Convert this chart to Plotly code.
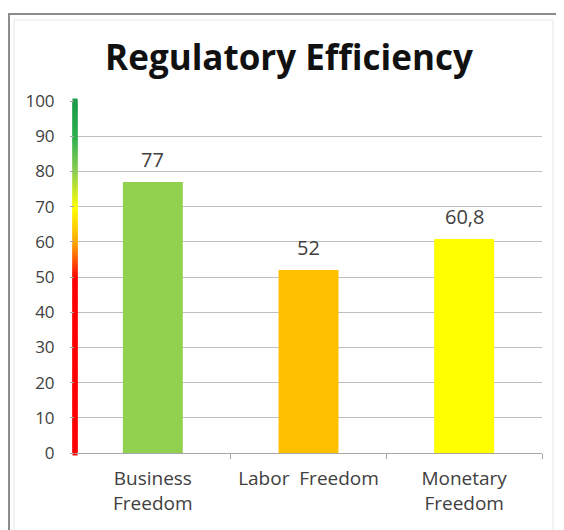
import plotly.graph_objects as go

categories = ["Business<br>Freedom", "Labor  Freedom", "Monetary<br>Freedom"]
values = [77, 52, 60.8]
bar_colors = ["#92D050", "#FFC000", "#FFFF00"]
y_ticks = [0, 10, 20, 30, 40, 50, 60, 70, 80, 90, 100]
scale_levels = [i * 0.5 for i in range(0, 201)]

OFF = 8  # page body offset
W, H = 564, 530
L, R, T, B = 75 - OFF, 22 + OFF, 101 - OFF, 77 + OFF
pw, ph = W - L - R, H - T - B

def px_x(x):
    return (x - OFF - L) / pw

def px_y(y):
    return (H - B - (y - OFF)) / ph

xs = list(range(len(categories)))
labels = [str(v).replace(".", ",") for v in values]

fig = go.Figure()

fig.add_trace(go.Bar(
    x=xs, y=values, width=0.385,
    marker=dict(color=bar_colors, line=dict(width=0)),
    hoverinfo="skip",
))

# gradient colored axis
fig.add_trace(go.Scatter(
    x=[-0.5] * len(scale_levels), y=scale_levels, mode="markers",
    marker=dict(symbol="square", size=5, color=scale_levels,
                colorscale=[[0, "#FF0000"], [0.5, "#FF0000"], [0.6, "#FFA500"],
                            [0.7, "#FFFF00"], [0.8, "#92D050"], [0.9, "#2EB050"],
                            [1.0, "#1E9A4A"]],
                cmin=0, cmax=100, line=dict(width=0)),
    cliponaxis=False, hoverinfo="skip",
))

for i, v in enumerate(values):
    fig.add_annotation(x=xs[i], y=v, text=labels[i], showarrow=False,
                       yanchor="bottom", yshift=7,
                       font=dict(size=20, color="#404040", family="Open Sans"))

fig.add_shape(type="rect", xref="paper", yref="paper",
              x0=px_x(14), x1=px_x(553), y0=px_y(560), y1=px_y(20),
              line=dict(color="#E6E6E6", width=1), layer="below")
fig.add_shape(type="rect", xref="paper", yref="paper",
              x0=px_x(9), x1=px_x(590), y0=px_y(580), y1=px_y(14),
              line=dict(color="#8C8C8C", width=2), layer="below")

fig.update_layout(
    width=W, height=H,
    margin=dict(l=L, r=R, t=T, b=B, autoexpand=False),
    paper_bgcolor="white", plot_bgcolor="white",
    showlegend=False,
    title=dict(text="<b>Regulatory Efficiency</b>", x=px_x(289), xref="paper",
               y=(H - (58 - OFF)) / H, yanchor="middle", xanchor="center",
               font=dict(size=35, color="#111111", family="Open Sans")),
)
fig.update_xaxes(
    range=[-0.5, 2.5], tickvals=xs, ticktext=categories, ticks="",
    showgrid=False, zeroline=False, showline=True, linecolor="#A6A6A6", linewidth=1,
    automargin=False, ticklabelstandoff=8,
    tickfont=dict(size=19, color="#404040", family="Open Sans"),
    minor=dict(tickvals=[0.5, 1.5, 2.5], ticks="outside", ticklen=5,
               tickcolor="#A6A6A6", showgrid=False),
)
fig.update_yaxes(
    range=[0, 100], tickvals=y_ticks, ticks="outside", ticklen=4,
    tickcolor="#A6A6A6", showgrid=True, gridcolor="#BFBFBF", gridwidth=1,
    zeroline=False, showline=False, ticklabelstandoff=12, automargin=False,
    tickfont=dict(size=17, color="#404040", family="Open Sans"),
)

fig.write_html("out.html")
